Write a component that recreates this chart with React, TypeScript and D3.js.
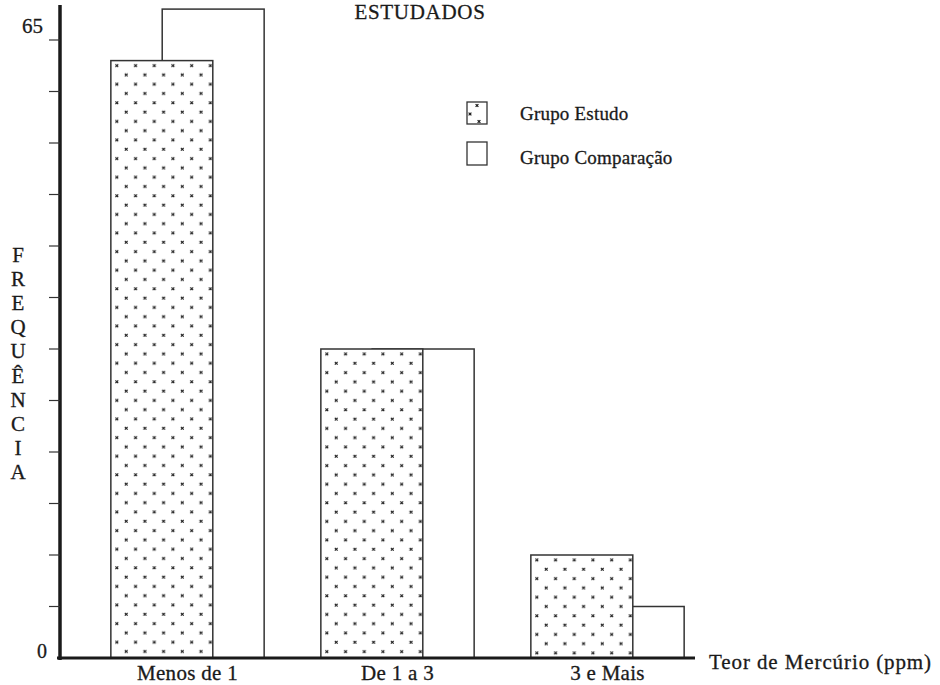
import React from "react";
import * as d3 from "d3";

const categories = ["Menos de 1", "De 1 a 3", "3 e Mais"];
const grupoEstudo = [58, 30, 10];
const grupoComparacao = [63, 30, 5];
const seriesNames = ["Grupo Estudo", "Grupo Comparação"];
const yTickValues = [5, 10, 15, 20, 25, 30, 35, 40, 45, 50, 55, 60];
const yZeroLabel = "0";
const yTopLabel = "65";
const yAxisTitle = "FREQUÊNCIA";
const xAxisTitle = "Teor de Mercúrio (ppm)";
const chartTitle = "ESTUDADOS";

const W = 940;
const H = 685;
const FONT = "'Liberation Serif', 'Times New Roman', serif";
const INK = "#1a1a1a";
const TXT = { fontFamily: FONT, fill: INK, stroke: INK, strokeWidth: 0.3 } as const;

function Mark({ px, py }: { px: number; py: number }) {
  return (
    <g stroke={INK} strokeWidth={1.2}>
      <line x1={px - 1.4} y1={py - 1.4} x2={px + 1.4} y2={py + 1.4} />
      <line x1={px - 1.4} y1={py + 1.4} x2={px + 1.4} y2={py - 1.4} />
    </g>
  );
}

export default function App() {
  const y = d3.scaleLinear().domain([0, 60]).range([658, 40]);
  const x = d3
    .scaleBand<string>()
    .domain(categories)
    .range([82.5, 712.5])
    .paddingInner(0.27)
    .paddingOuter(0.135);
  const bw = x.bandwidth();
  const barW = bw * 0.665;
  const yAxisMax = 63.4;
  const axisX = 60;

  const rows = categories.map((c, i) => ({
    c,
    est: grupoEstudo[i],
    comp: grupoComparacao[i],
    x0: x(c) as number,
  }));

  const letters = Array.from(yAxisTitle);

  return (
    <div style={{ position: "absolute", left: 0, top: 0 }}>
      <svg width={W} height={H} style={{ display: "block", background: "#fff" }}>
        <defs>
          {rows.map((r, i) => (
            <pattern
              key={i}
              id={`dots${i}`}
              patternUnits="userSpaceOnUse"
              width={18.7}
              height={18.6}
              x={r.x0 + 6 - 4.7}
              y={y(r.est) + 5 - 4.65}
            >
              <Mark px={4.7} py={4.65} />
              <Mark px={14.05} py={13.95} />
            </pattern>
          ))}
          <pattern id="dotsLegend" patternUnits="userSpaceOnUse" width={30} height={30} x={467} y={102}>
            <Mark px={10} py={3.5} />
            <Mark px={3} py={12} />
            <Mark px={12} py={19.5} />
          </pattern>
        </defs>

        {/* title */}
        <text x={420} y={19} textAnchor="middle" fontSize={21} letterSpacing={0.7} {...TXT}>
          {chartTitle}
        </text>

        {/* bars: comparação behind */}
        {rows.map((r, i) => (
          <rect
            key={`c${i}`}
            x={r.x0 + bw - barW}
            y={y(r.comp)}
            width={barW}
            height={y(0) - y(r.comp)}
            fill="#fff"
            stroke="#333"
            strokeWidth={1.5}
          />
        ))}
        {rows.map((r, i) => (
          <g key={`e${i}`}>
            <rect x={r.x0} y={y(r.est)} width={barW} height={y(0) - y(r.est)} fill="#fff" stroke="#333" strokeWidth={1.5} />
            <rect x={r.x0} y={y(r.est)} width={barW} height={y(0) - y(r.est)} fill={`url(#dots${i})`} stroke="none" />
          </g>
        ))}

        {/* y axis */}
        <line x1={axisX} x2={axisX} y1={y(yAxisMax)} y2={y(0) + 2} stroke={INK} strokeWidth={3.5} />
        {yTickValues.map((v) => (
          <line key={v} x1={axisX - 11} x2={axisX} y1={y(v)} y2={y(v)} stroke="#333" strokeWidth={1.2} />
        ))}
        <text x={47} y={y(0)} textAnchor="end" fontSize={20} {...TXT}>
          {yZeroLabel}
        </text>
        <text x={43} y={y(yAxisMax) + 28} textAnchor="end" fontSize={21} {...TXT}>
          {yTopLabel}
        </text>

        {/* baseline */}
        <line x1={axisX - 3} x2={695} y1={y(0)} y2={y(0)} stroke={INK} strokeWidth={3} />

        {/* y title stacked */}
        {letters.map((ch, i) => (
          <text
            key={i}
            x={18}
            y={255 + i * 24.1}
            textAnchor="middle"
            dominantBaseline="central"
            fontSize={21}
            {...TXT}
          >
            {ch}
          </text>
        ))}

        {/* category labels */}
        {rows.map((r, i) => (
          <text
            key={`l${i}`}
            x={r.x0 + bw / 2}
            y={680}
            textAnchor="middle"
            fontSize={21}
            letterSpacing={0.3}
            {...TXT}
          >
            {r.c}
          </text>
        ))}

        {/* x title */}
        <text x={709} y={669} fontSize={21} letterSpacing={0.9} {...TXT}>
          {xAxisTitle}
        </text>

        {/* legend */}
        <rect x={467} y={102} width={20} height={22} fill="#fff" stroke="#333" strokeWidth={1.3} />
        <rect x={467} y={102} width={20} height={22} fill="url(#dotsLegend)" stroke="none" />
        <rect x={467} y={142} width={20} height={23} fill="#fff" stroke="#333" strokeWidth={1.3} />
        <text x={520} y={113} dominantBaseline="central" fontSize={19} letterSpacing={0.2} {...TXT}>
          {seriesNames[0]}
        </text>
        <text x={520} y={157} dominantBaseline="central" fontSize={19} letterSpacing={0.2} {...TXT}>
          {seriesNames[1]}
        </text>
      </svg>
    </div>
  );
}
